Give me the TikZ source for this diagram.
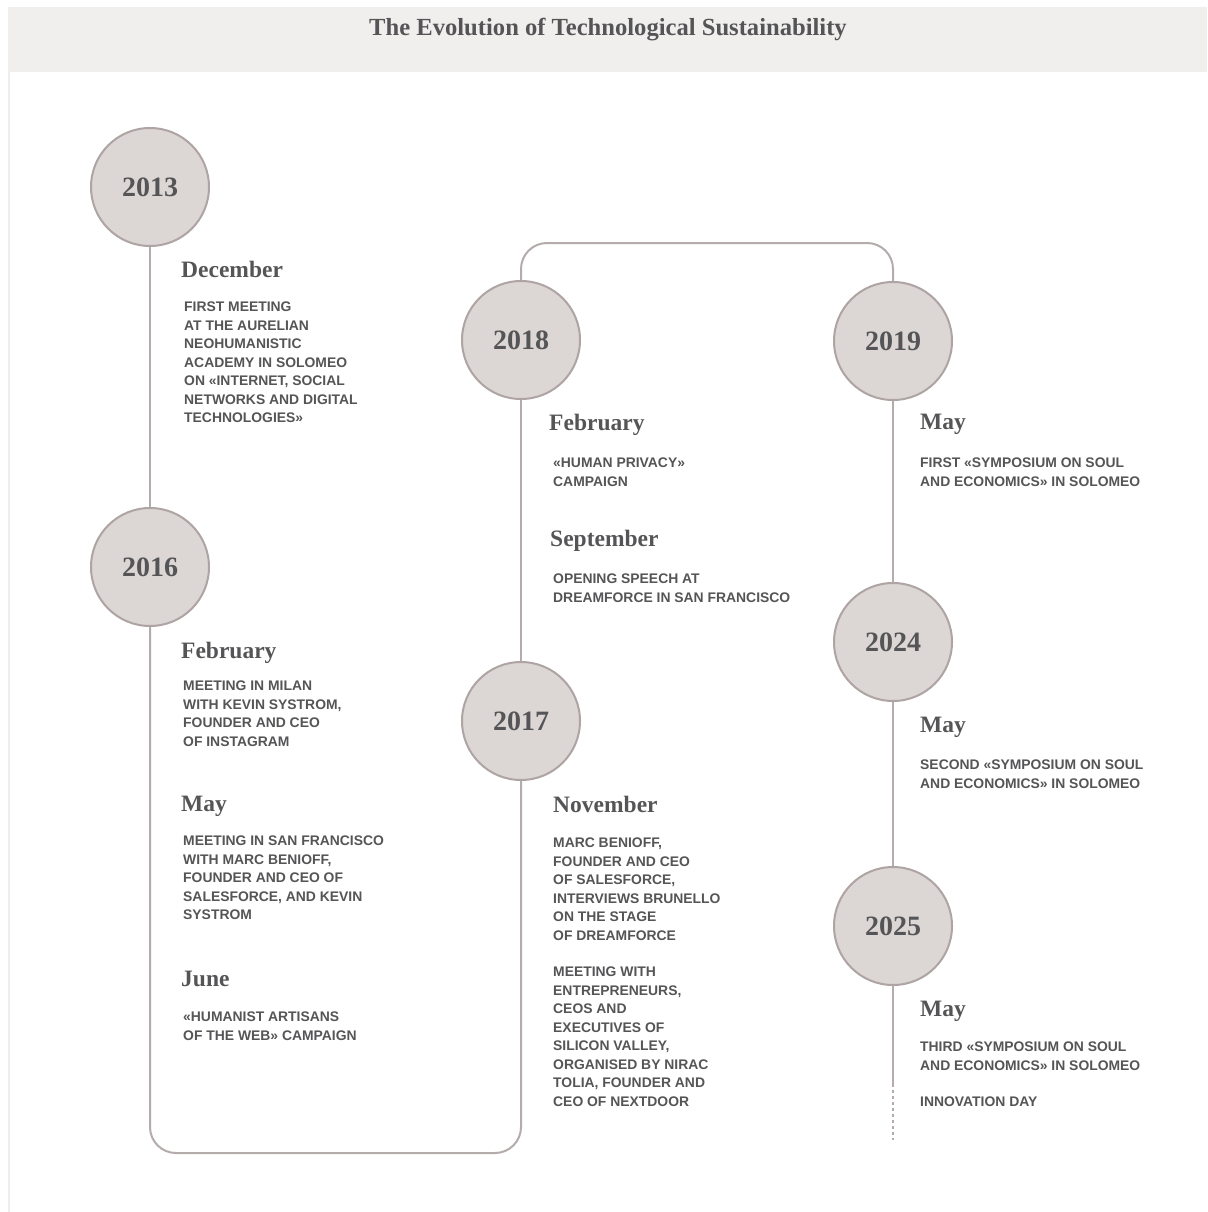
\documentclass[tikz,border=0pt]{standalone}
\usepackage{fontspec}
\setmainfont{Liberation Serif}
\newfontfamily\labelsans{Liberation Sans}
\definecolor{ink}{HTML}{555557}
\definecolor{lineclr}{HTML}{B4ABAB}
\definecolor{circline}{HTML}{AEA4A4}
\definecolor{circfill}{HTML}{DCD6D4}
\definecolor{headfill}{HTML}{F0EFEE}
\definecolor{edgeclr}{HTML}{EEEEEE}
\begin{document}
\begin{tikzpicture}[x=1pt,y=-1pt,
  track/.style={draw=lineclr, line width=2pt},
  yearnode/.style={circle, fill=circfill, draw=circline, line width=2pt,
    minimum size=118pt, inner sep=0pt, text=ink,
    font=\fontsize{28}{30}\selectfont\bfseries},
  month/.style={anchor=north west, inner sep=0pt, text=ink,
    font=\fontsize{23.5}{26}\selectfont\bfseries},
  body/.style={anchor=north west, inner sep=0pt, text=ink, align=left,
    font=\labelsans\bfseries\fontsize{13.9}{18.5}\selectfont},
]
\useasboundingbox (0,0) rectangle (1207,1212);
\fill[white] (0,0) rectangle (1207,1212);

% header band and left page edge
\fill[headfill] (8,7) rectangle (1207,72);
\draw[edgeclr, line width=2.5pt] (9,72) -- (9,1212);
\node[text=ink, font=\fontsize{24.6}{27}\selectfont\bfseries] (title) at (608,30)
  {The Evolution of Technological Sustainability};

% year circles
\node[yearnode] (y13) at (150,187) {2013};
\node[yearnode] (y16) at (150,567) {2016};
\node[yearnode] (y18) at (521,340) {2018};
\node[yearnode] (y17) at (521,721) {2017};
\node[yearnode] (y19) at (893,341) {2019};
\node[yearnode] (y24) at (893,642) {2024};
\node[yearnode] (y25) at (893,926) {2025};

\coordinate (solidend) at (893,1084);
\coordinate (dashend) at (893,1140);

% connecting track
\draw[track] (y13.south) -- (y16.north);
\draw[track, rounded corners=26pt] (y16.south) -- (150,1153) -- (521,1153) -- (y17.south);
\draw[track] (y17.north) -- (y18.south);
\draw[track, rounded corners=26pt] (y18.north) -- (521,243) -- (893,243) -- (y19.north);
\draw[track] (y19.south) -- (y24.north);
\draw[track] (y24.south) -- (y25.north);
\draw[track] (y25.south) -- (solidend);
\draw[track, dash pattern=on 3pt off 3pt] (solidend) -- (dashend);

% 2013
\node[month] (m13a) at (181,261) {December};
\node[body] (t13a) at (184,302) {FIRST MEETING\\AT THE AURELIAN\\NEOHUMANISTIC\\ACADEMY IN SOLOMEO\\ON «INTERNET, SOCIAL\\NETWORKS AND DIGITAL\\TECHNOLOGIES»};

% 2016
\node[month] (m16a) at (181,642) {February};
\node[body] (t16a) at (183,681) {MEETING IN MILAN\\WITH KEVIN SYSTROM,\\FOUNDER AND CEO\\OF INSTAGRAM};
\node[month] (m16b) at (181,796) {May};
\node[body] (t16b) at (183,836) {MEETING IN SAN FRANCISCO\\WITH MARC BENIOFF,\\FOUNDER AND CEO OF\\SALESFORCE, AND KEVIN\\SYSTROM};
\node[month] (m16c) at (181,971) {June};
\node[body] (t16c) at (183,1012) {«HUMANIST ARTISANS\\OF THE WEB» CAMPAIGN};

% 2018
\node[month] (m18a) at (549,414) {February};
\node[body] (t18a) at (553,458) {«HUMAN PRIVACY»\\CAMPAIGN};
\node[month] (m18b) at (550,530) {September};
\node[body] (t18b) at (553,574) {OPENING SPEECH AT\\DREAMFORCE IN SAN FRANCISCO};

% 2017
\node[month] (m17a) at (553,796) {November};
\node[body] (t17a) at (553,838) {MARC BENIOFF,\\FOUNDER AND CEO\\OF SALESFORCE,\\INTERVIEWS BRUNELLO\\ON THE STAGE\\OF DREAMFORCE};
\node[body] (t17b) at (553,967) {MEETING WITH\\ENTREPRENEURS,\\CEOS AND\\EXECUTIVES OF\\SILICON VALLEY,\\ORGANISED BY NIRAC\\TOLIA, FOUNDER AND\\CEO OF NEXTDOOR};

% 2019, 2024, 2025
\node[month] (m19a) at (920,414) {May};
\node[body] (t19a) at (920,458) {FIRST «SYMPOSIUM ON SOUL\\AND ECONOMICS» IN SOLOMEO};
\node[month] (m24a) at (920,717) {May};
\node[body] (t24a) at (920,760) {SECOND «SYMPOSIUM ON SOUL\\AND ECONOMICS» IN SOLOMEO};
\node[month] (m25a) at (920,1001) {May};
\node[body] (t25a) at (920,1042) {THIRD «SYMPOSIUM ON SOUL\\AND ECONOMICS» IN SOLOMEO};
\node[body] (t25b) at (920,1097) {INNOVATION DAY};
\end{tikzpicture}
\end{document}
